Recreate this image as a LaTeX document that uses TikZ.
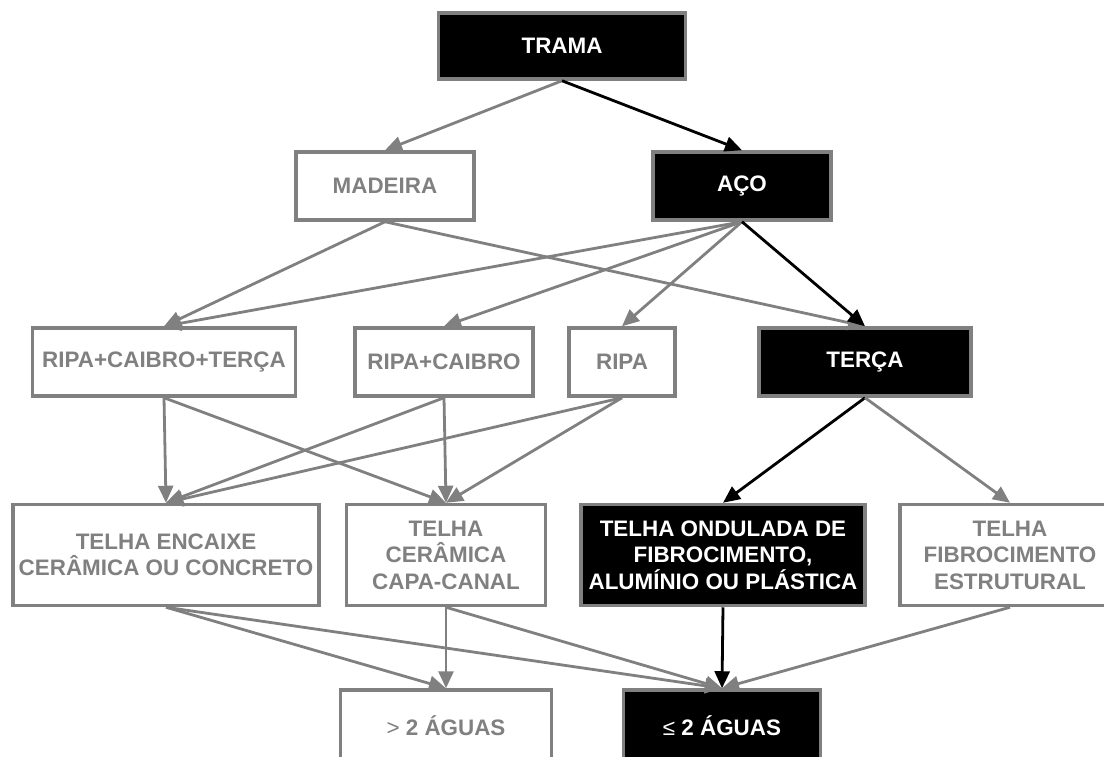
\documentclass[tikz,border=0pt]{standalone}
\usepackage{fontspec}
\setmainfont{Liberation Sans}
\usetikzlibrary{arrows.meta}
\definecolor{tramagray}{RGB}{128,128,128}

\begin{document}
\begin{tikzpicture}[x=1pt,y=-1pt,
    box/.style={draw=tramagray,line width=3.5pt,align=center,inner sep=0pt,
      font=\fontsize{22.4}{26.5}\selectfont\bfseries},
    gbox/.style={box,fill=white,text=tramagray},
    bbox/.style={box,fill=black,text=white},
    garrow/.style={draw=tramagray,line width=2.8pt,-{Triangle[length=17pt,width=15pt]}},
    barrow/.style={draw=black,line width=2.8pt,-{Triangle[length=17pt,width=15pt]}}]
  \useasboundingbox (0,0) rectangle (1104,756);
  % nodes
  \node[bbox,minimum width=247pt,minimum height=66pt](trama)at(562,46){TRAMA};
  \node[gbox,minimum width=178pt,minimum height=68pt](madeira)at(385,186){MADEIRA};
  \node[bbox,minimum width=178pt,minimum height=68pt](aco)at(742,186){AÇO};
  \node[gbox,minimum width=263pt,minimum height=68pt](rct)at(164,362){RIPA+CAIBRO+TERÇA};
  \node[gbox,minimum width=178pt,minimum height=68pt](rc)at(444,362){RIPA+CAIBRO};
  \node[gbox,minimum width=106pt,minimum height=68pt](ripa)at(622,362){RIPA};
  \node[bbox,minimum width=212pt,minimum height=68pt](terca)at(865,362){TERÇA};
  \node[gbox,minimum width=306pt,minimum height=101pt](encaixe)at(166,555){TELHA ENCAIXE\\CERÂMICA OU CONCRETO};
  \node[gbox,minimum width=199pt,minimum height=101pt](capa)at(446,555){TELHA\\CERÂMICA\\CAPA-CANAL};
  \node[bbox,minimum width=284pt,minimum height=101pt](ondulada)at(723,555){TELHA ONDULADA DE\\FIBROCIMENTO,\\ALUMÍNIO OU PLÁSTICA};
  \node[gbox,minimum width=220pt,minimum height=101pt](estrutural)at(1010,555){TELHA\\FIBROCIMENTO\\ESTRUTURAL};
  \node[gbox,minimum width=211pt,minimum height=72pt](maior)at(446,726){{\mdseries >} 2 ÁGUAS};
  \node[bbox,minimum width=197pt,minimum height=72pt](menor)at(722,726){{\mdseries ≤} 2 ÁGUAS};
  % connectors
  \draw[garrow](trama.south)--(madeira.north);
  \draw[barrow](trama.south)--(aco.north);
  \draw[garrow](madeira.south)--(rct.north);
  \draw[garrow](madeira.south)--(terca.north);
  \draw[garrow](aco.south)--(rct.north);
  \draw[garrow](aco.south)--(rc.north);
  \draw[garrow](aco.south)--(ripa.north);
  \draw[barrow](aco.south)--(terca.north);
  \foreach \src in {rct,rc,ripa}{
    \draw[garrow](\src.south)--(encaixe.north);
    \draw[garrow](\src.south)--(capa.north);
  }
  \draw[barrow](terca.south)--(ondulada.north);
  \draw[garrow](terca.south)--(estrutural.north);
  \draw[garrow](encaixe.south)--(maior.north);
  \draw[garrow](encaixe.south)--(menor.north);
  \draw[garrow](capa.south)--(maior.north);
  \draw[garrow](capa.south)--(menor.north);
  \draw[garrow](estrutural.south)--(menor.north);
  \draw[barrow](ondulada.south)--(menor.north);
\end{tikzpicture}
\end{document}
